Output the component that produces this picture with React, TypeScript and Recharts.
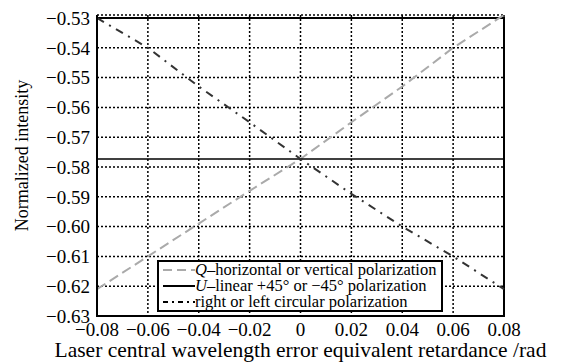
import {
  LineChart,
  Line,
  XAxis,
  YAxis,
  CartesianGrid,
  ReferenceArea,
} from "recharts";

const retardance = [-0.08, -0.06, -0.04, -0.02, 0, 0.02, 0.04, 0.06, 0.08];
const qValues = [-0.621, -0.61, -0.599, -0.588, -0.5773, -0.565, -0.553, -0.54, -0.529];
const uValues = [-0.5773, -0.5773, -0.5773, -0.5773, -0.5773, -0.5773, -0.5773, -0.5773, -0.5773];
const circValues = [-0.53, -0.54, -0.553, -0.565, -0.5773, -0.589, -0.6, -0.61, -0.621];

const xTicks = [-0.08, -0.06, -0.04, -0.02, 0, 0.02, 0.04, 0.06, 0.08];
const yTicks = [-0.63, -0.62, -0.61, -0.6, -0.59, -0.58, -0.57, -0.56, -0.55, -0.54, -0.53];

const data = retardance.map((x, i) => ({
  x,
  q: qValues[i],
  u: uValues[i],
  c: circValues[i],
}));

const font = "'Liberation Serif', 'DejaVu Serif', serif";

const fmt = (v: number) => {
  if (Math.abs(v) < 1e-9) return "0";
  return v < 0 ? "\u2212" + Math.abs(v).toFixed(2) : v.toFixed(2);
};

// rotated y label, sits a bit above the plot centre like the original
function YLabel(props: any) {
  const vb = props.viewBox || { x: 0, y: 0, width: 0, height: 0 };
  const cx = vb.x + 22;
  const cy = vb.y + vb.height / 2 - 10;
  return (
    <text
      x={cx}
      y={cy}
      transform={`rotate(-90, ${cx}, ${cy})`}
      textAnchor="middle"
      dominantBaseline="central"
      fill="#000"
      fontSize={18}
      fontFamily={font}
    >
      Normalized intensity
    </text>
  );
}

function LegendBox() {
  const row = { display: "flex", alignItems: "center", height: 16, whiteSpace: "nowrap" as const };
  return (
    <div
      style={{
        position: "absolute",
        left: 157,
        top: 260,
        width: 278,
        height: 48,
        background: "#fff",
        border: "2px solid #000",
        padding: "0px 0px 0px 4px",
        fontFamily: font,
        fontSize: 16.5,
        color: "#000",
        lineHeight: "16px",
      }}
    >
      <div style={row}>
        <svg width={32} height={8} style={{ flex: "none" }}>
          <line x1={0} y1={4} x2={32} y2={4} stroke="#aaa" strokeWidth={2} strokeDasharray="9 5" />
        </svg>
        <span>
          <i>Q</i>–horizontal or vertical polarization
        </span>
      </div>
      <div style={row}>
        <svg width={32} height={8} style={{ flex: "none" }}>
          <line x1={0} y1={4} x2={32} y2={4} stroke="#000" strokeWidth={2} />
        </svg>
        <span>
          <i>U</i>–linear +45° or −45° polarization
        </span>
      </div>
      <div style={row}>
        <svg width={32} height={8} style={{ flex: "none" }}>
          <line x1={0} y1={4} x2={32} y2={4} stroke="#000" strokeWidth={2} strokeDasharray="5 4 2 4" />
        </svg>
        <span>right or left circular polarization</span>
      </div>
    </div>
  );
}

export default function App() {
  return (
    <div style={{ position: "fixed", left: 0, top: 0, width: 568, height: 363, background: "#fff" }}>
      <LineChart
        width={568}
        height={363}
        data={data}
        margin={{ top: 15, right: 64, bottom: 0, left: 0 }}
      >
        <CartesianGrid stroke="#000" strokeDasharray="2 2" strokeWidth={1.5} />
        <XAxis
          dataKey="x"
          type="number"
          domain={[-0.08, 0.08]}
          ticks={xTicks}
          tickFormatter={fmt}
          interval={0}
          height={47}
          tickLine={false}
          tickSize={4}
          tickMargin={3}
          axisLine={{ stroke: "#000", strokeWidth: 2 }}
          tick={{ fill: "#000", fontSize: 19, fontFamily: font }}
          label={{
            value: "Laser central wavelength error equivalent retardance /rad",
            position: "insideBottom",
            offset: 6,
            fill: "#000",
            fontSize: 21.5,
            fontFamily: font,
          }}
        />
        <YAxis
          type="number"
          domain={[-0.63, -0.53]}
          ticks={yTicks}
          tickFormatter={fmt}
          interval={0}
          width={97}
          tickLine={false}
          tickSize={4}
          tickMargin={3}
          axisLine={{ stroke: "#000", strokeWidth: 2 }}
          tick={{ fill: "#000", fontSize: 19, fontFamily: font }}
          label={<YLabel />}
        />
        <ReferenceArea
          x1={-0.08}
          x2={0.08}
          y1={-0.63}
          y2={-0.53}
          fill="none"
          fillOpacity={0}
          stroke="#000"
          strokeWidth={2}
          ifOverflow="visible"
        />
        <Line
          dataKey="q"
          stroke="#aaa"
          strokeWidth={2}
          strokeDasharray="10 5"
          dot={false}
          isAnimationActive={false}
        />
        <Line
          dataKey="u"
          stroke="#000"
          strokeWidth={1.5}
          dot={false}
          isAnimationActive={false}
        />
        <Line
          dataKey="c"
          stroke="#333"
          strokeWidth={2}
          strokeDasharray="8 6 2 6"
          dot={false}
          isAnimationActive={false}
        />
      </LineChart>
      <LegendBox />
    </div>
  );
}
